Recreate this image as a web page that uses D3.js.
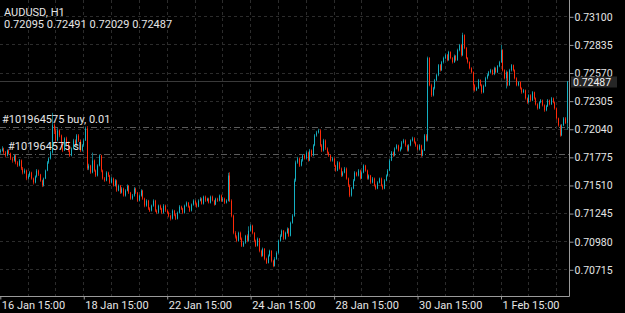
<!DOCTYPE html>
<html>
<head>
<meta charset="utf-8">
<script src="https://cdn.jsdelivr.net/npm/d3@7"></script>
<style>
  body { margin:0; background:#000; }
  text { font-family: Roboto, "Open Sans", sans-serif; }
</style>
</head>
<body>
<div class="canvas"></div>
<script>
// AUDUSD H1 bars, prices in points above 0.70000
const firstOpen = 1820
const closes = [1835,1854,1816,1788,1835,1807,1760,1741,1788,1722,1693,1741,1665,1627,1646,1571,
1599,1627,1571,1533,1590,1646,1608,1552,1504,1571,1646,1722,1760,1816,2072,2024,
1930,2024,1977,1883,1835,1949,1911,1835,1788,1854,1930,1883,1977,1930,1835,1883,
1930,2043,1665,1693,1627,1741,1646,1599,1693,1788,1646,1571,1552,1627,1599,1533,
1571,1504,1552,1457,1504,1438,1476,1410,1457,1504,1438,1381,1410,1476,1438,1362,
1410,1457,1381,1315,1362,1287,1268,1315,1362,1268,1249,1315,1287,1249,1315,1268,
1249,1220,1192,1268,1230,1192,1249,1306,1287,1249,1315,1343,1306,1268,1325,1362,
1334,1306,1362,1381,1334,1400,1362,1381,1343,1400,1362,1325,1381,1362,1410,1362,
1381,1343,1362,1599,1362,1220,1059,1022,984,1059,1003,937,965,1031,984,1079,
1126,1059,984,937,1003,889,842,908,814,776,842,889,795,747,814,870,
984,1031,1079,1003,1059,1097,1031,1154,1220,1552,1722,1760,1693,1741,1788,1760,
1816,1741,1835,1788,1883,1977,2005,2024,1883,1835,1930,1854,1816,1788,1741,1760,
1693,1646,1722,1665,1599,1627,1665,1571,1504,1410,1476,1552,1627,1599,1646,1571,
1627,1693,1646,1571,1599,1533,1571,1504,1476,1533,1571,1504,1476,1552,1599,1646,
1741,1816,1788,1854,1883,1835,1854,1911,1930,1883,1835,1883,1930,1949,1911,1883,
1845,1883,1788,1835,1977,1930,2706,2450,2355,2422,2497,2545,2639,2592,2668,2706,
2734,2687,2763,2706,2668,2725,2687,2781,2828,2734,2923,2800,2706,2668,2611,2573,
2450,2403,2422,2497,2450,2384,2441,2516,2545,2573,2592,2554,2611,2573,2630,2668,
2781,2592,2516,2573,2450,2592,2639,2592,2516,2450,2479,2422,2384,2403,2327,2289,
2355,2308,2384,2327,2270,2233,2289,2308,2261,2214,2252,2308,2270,2327,2289,2233,
2138,2072,1977,2072,2138,2095,2487]

const highs = [1850,1875,1862,1830,1845,1850,1815,1775,1800,1795,1735,1755,1750,1680,1665,1655,
1615,1640,1635,1580,1600,1660,1655,1615,1560,1580,1655,1735,1770,1830,2190,2090,
2040,2045,2035,1985,1895,1960,1965,1920,1845,1865,1945,1940,1990,1990,1940,1895,
1945,2060,2065,1710,1700,1815,1750,1655,1705,1800,1795,1655,1585,1640,1635,1605,
1585,1580,1565,1560,1515,1510,1490,1485,1470,1515,1510,1445,1425,1490,1485,1445,
1420,1470,1465,1390,1375,1370,1300,1325,1375,1370,1280,1325,1325,1295,1330,1325,
1280,1260,1230,1280,1275,1240,1260,1320,1315,1295,1325,1355,1350,1315,1335,1375,
1370,1345,1375,1395,1390,1410,1410,1390,1390,1410,1410,1370,1390,1390,1420,1420,
1395,1390,1375,1625,1630,1375,1230,1075,1035,1070,1070,1015,980,1040,1045,1120,
1140,1135,1065,995,1015,1010,900,920,915,825,855,900,895,805,830,885,
995,1045,1090,1085,1070,1110,1105,1165,1235,1570,1740,1775,1770,1755,1800,1800,
1830,1825,1850,1845,1895,1990,2020,2040,2035,1895,1945,1940,1865,1825,1795,1775,
1770,1700,1735,1730,1675,1640,1680,1675,1580,1515,1490,1565,1640,1635,1660,1655,
1640,1705,1700,1655,1610,1605,1585,1580,1515,1545,1580,1580,1515,1565,1610,1660,
1755,1830,1825,1865,1895,1890,1870,1925,1945,1940,1890,1895,1940,1965,1960,1920,
1890,1895,1890,1845,1990,1990,2720,2715,2465,2435,2510,2560,2650,2650,2680,2720,
2750,2745,2775,2770,2715,2740,2735,2795,2840,2840,2945,2930,2810,2715,2675,2620,
2580,2460,2435,2510,2505,2460,2455,2530,2560,2585,2605,2600,2625,2620,2640,2680,
2830,2790,2600,2590,2580,2605,2650,2645,2600,2525,2490,2490,2430,2415,2410,2335,
2365,2365,2395,2390,2335,2280,2300,2320,2315,2270,2265,2320,2315,2340,2335,2295,
2240,2145,2080,2085,2150,2150,2491]

const lows = [1805,1825,1800,1770,1780,1795,1745,1720,1730,1705,1680,1685,1650,1610,1615,1555,
1560,1585,1560,1515,1525,1580,1595,1540,1490,1495,1565,1640,1710,1750,1805,1990,
1915,1920,1960,1870,1820,1830,1900,1820,1775,1780,1845,1870,1875,1915,1820,1825,
1870,1925,1650,1650,1615,1620,1635,1585,1590,1685,1630,1560,1540,1545,1585,1520,
1525,1495,1495,1445,1450,1425,1430,1400,1400,1450,1425,1370,1370,1400,1425,1350,
1355,1400,1370,1300,1305,1275,1255,1260,1305,1255,1235,1240,1275,1235,1240,1255,
1235,1205,1175,1185,1215,1180,1185,1240,1275,1235,1240,1305,1295,1255,1260,1315,
1320,1295,1300,1355,1325,1325,1350,1355,1335,1335,1355,1315,1320,1350,1355,1350,
1350,1330,1335,1355,1350,1205,1045,1005,970,975,990,925,925,955,970,975,
1070,1045,970,925,930,875,830,835,800,765,770,835,780,735,740,805,
860,975,1020,990,995,1050,1020,1025,1145,1210,1540,1710,1680,1685,1730,1750,
1750,1730,1735,1775,1780,1875,1965,1995,1870,1820,1825,1840,1800,1775,1730,1730,
1680,1635,1640,1655,1585,1590,1620,1560,1490,1395,1400,1470,1545,1590,1590,1560,
1565,1620,1635,1560,1560,1520,1525,1495,1465,1470,1525,1495,1465,1470,1545,1590,
1640,1735,1775,1780,1845,1825,1825,1845,1900,1870,1825,1825,1875,1920,1900,1870,
1835,1835,1775,1780,1830,1920,1920,2440,2340,2345,2410,2490,2535,2580,2585,2655,
2695,2675,2680,2695,2655,2660,2675,2680,2770,2720,2725,2790,2695,2655,2600,2560,
2400,2390,2395,2415,2440,2370,2375,2435,2505,2535,2560,2545,2545,2560,2565,2620,
2660,2580,2505,2420,2440,2445,2580,2580,2505,2440,2440,2410,2370,2375,2315,2275,
2280,2295,2300,2315,2260,2220,2225,2280,2250,2200,2205,2245,2260,2265,2280,2220,
2125,2060,1965,1970,2065,2085,2029]

const priceTicks = [0.73100,0.72835,0.72570,0.72305,0.72040,0.71775,0.71510,0.71245,0.70980,0.70715]
const timeTicks = [0,48,96,144,192,240,288]
const timeLabels = ['16 Jan 15:00','18 Jan 15:00','22 Jan 15:00','24 Jan 15:00','28 Jan 15:00','30 Jan 15:00','1 Feb 15:00']
const header = ['AUDUSD, H1','0.72095 0.72491 0.72029 0.72487']
const orders = [{label:'#101964575 buy, 0.01', price:0.72052, dx:2},
                {label:'#101964575 sl', price:0.71800, dx:8}]
const lastPrice = 0.72487

const pt = v => 0.7 + v/100000
const n = Math.min(closes.length, highs.length, lows.length)
const bars = d3.range(n).map(i => ({
  i,
  o: pt(i === 0 ? firstOpen : closes[i-1]),
  h: pt(highs[i]), l: pt(lows[i]), c: pt(closes[i])
}))

const dims = {width:625, height:313, right:569, bottom:296}

const svg = d3.select('.canvas').append('svg')
    .attr('width', dims.width).attr('height', dims.height)
    .style('display','block')

svg.append('rect').attr('width', dims.width).attr('height', dims.height).attr('fill','#000')

const y = d3.scaleLinear().domain([0.70715, 0.73100]).range([269.3, 16.3])
const pitch = 83.45/48
const x = d3.scaleLinear().domain([0, 1]).range([-0.2, -0.2 + pitch])

svg.append('clipPath').attr('id','plot')
  .append('rect').attr('width', dims.right).attr('height', dims.bottom)

const plot = svg.append('g').attr('clip-path','url(#plot)')

// grid
const gridCol = '#2c2c2c'
plot.selectAll('.hgrid').data(priceTicks).enter().append('line')
    .attr('x1',0).attr('x2',dims.right)
    .attr('y1', d => Math.round(y(d))+0.5).attr('y2', d => Math.round(y(d))+0.5)
    .attr('stroke',gridCol).attr('stroke-dasharray','3,3')
plot.selectAll('.vgrid').data(d3.range(16, n, 16)).enter().append('line')
    .attr('y1',0).attr('y2',dims.bottom)
    .attr('x1', d => Math.round(x(d))+0.5).attr('x2', d => Math.round(x(d))+0.5)
    .attr('stroke',gridCol).attr('stroke-dasharray','3,3')

// current price line
plot.append('line')
    .attr('x1',0).attr('x2',dims.right)
    .attr('y1', Math.round(y(lastPrice))+0.5).attr('y2', Math.round(y(lastPrice))+0.5)
    .attr('stroke','#3a3a3a')

// order lines
plot.selectAll('.ord').data(orders).enter().append('line')
    .attr('x1',0).attr('x2',dims.right)
    .attr('y1', d => Math.round(y(d.price))+0.5).attr('y2', d => Math.round(y(d.price))+0.5)
    .attr('stroke','#5c5c5c').attr('stroke-dasharray','6,3,1,3')

// candles
const up = {wick:'#0f7580', body:'#14b0c2'}
const dn = {wick:'#a81c0c', body:'#ff2a08'}
const candle = plot.selectAll('.bar').data(bars).enter().append('g')
candle.append('rect')
    .attr('x', d => Math.round(x(d.i)))
    .attr('width', 1)
    .attr('y', d => y(d.h))
    .attr('height', d => Math.max(1, y(d.l) - y(d.h)))
    .attr('fill', d => d.c >= d.o ? up.wick : dn.wick)
candle.append('rect')
    .attr('x', d => Math.round(x(d.i)))
    .attr('width', 1)
    .attr('y', d => y(Math.max(d.o, d.c)))
    .attr('height', d => Math.max(1, Math.abs(y(d.o) - y(d.c))))
    .attr('fill', d => d.c >= d.o ? up.body : dn.body)

// order labels
plot.selectAll('.ordtxt').data(orders).enter().append('text')
    .attr('x', d => d.dx).attr('y', d => Math.round(y(d.price)) - 4)
    .attr('fill','#e6e6e6').attr('font-size','11px')
    .text(d => d.label)

// header
svg.selectAll('.hdr').data(header).enter().append('text')
    .attr('x', 4).attr('y', (d,i) => 16 + i*12)
    .attr('fill','#e6e6e6').attr('font-size','11px')
    .text(d => d)

// frame
const frameCol = '#9a9a9a'
svg.append('line').attr('x1',dims.right+0.5).attr('x2',dims.right+0.5).attr('y1',0).attr('y2',dims.bottom+0.5)
    .attr('stroke',frameCol)
svg.append('line').attr('x1',0).attr('x2',dims.right+0.5).attr('y1',dims.bottom+0.5).attr('y2',dims.bottom+0.5)
    .attr('stroke',frameCol)

// price axis
const yAxis = d3.axisRight(y).tickValues(priceTicks).tickSize(4).tickPadding(1)
    .tickFormat(d3.format('.5f'))
const ya = svg.append('g').attr('transform',`translate(${dims.right+0.5},0.5)`).call(yAxis)
ya.select('.domain').remove()
ya.selectAll('line').attr('stroke',frameCol)
ya.selectAll('text').attr('fill','#e6e6e6').attr('font-size','10.5px')
    .attr('font-family','Roboto, sans-serif')

// last price box
const lp = svg.append('g').attr('transform',`translate(571,${Math.round(y(lastPrice))})`)
lp.append('rect').attr('x',0).attr('y',-4.5).attr('width',46).attr('height',11).attr('fill','#262626')
lp.append('text').attr('x',2).attr('y',4.5).attr('fill','#f0f0f0').attr('font-size','10.5px')
    .text(d3.format('.5f')(lastPrice))

// time axis
const xAxis = d3.axisBottom(x).tickValues(timeTicks).tickSize(3).tickPadding(2)
    .tickFormat((d,i) => timeLabels[i])
const xa = svg.append('g').attr('transform',`translate(0.5,${dims.bottom+0.5})`).call(xAxis)
xa.select('.domain').remove()
xa.selectAll('line').attr('stroke',frameCol)
xa.selectAll('text').attr('fill','#e6e6e6').attr('font-size','11px')
    .attr('font-family','Roboto, sans-serif')
    .attr('text-anchor','start').attr('dx', 1)
</script>
</body>
</html>
